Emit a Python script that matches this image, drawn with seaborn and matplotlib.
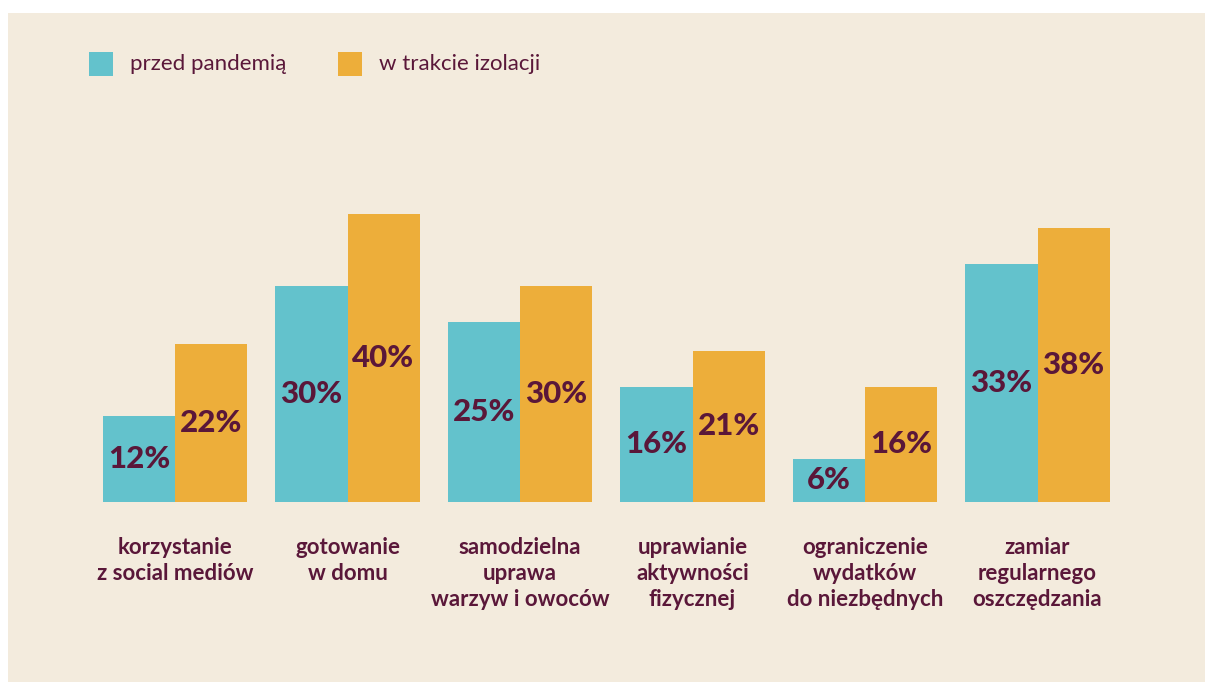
import matplotlib
matplotlib.use("Agg")
import matplotlib.pyplot as plt
from matplotlib.patches import Rectangle
import seaborn as sns
import pandas as pd

categories = [
    "korzystanie\nz social mediów",
    "gotowanie\nw domu",
    "samodzielna\nuprawa\nwarzyw i owoców",
    "uprawianie\naktywności\nfizycznej",
    "ograniczenie\nwydatków\ndo niezbędnych",
    "zamiar\nregularnego\noszczędzania",
]
series_names = ["przed pandemią", "w trakcie izolacji"]
before = [12, 30, 25, 16, 6, 33]
during = [22, 40, 30, 21, 16, 38]

BG = "#f3ebdd"
TEAL = "#63c2cc"
ORANGE = "#edae3a"
TEXT = "#5a1739"

sns.set_theme(style="white")
plt.rcParams["font.family"] = ["Lato", "DejaVu Sans"]

df = pd.DataFrame({
    "cat": categories * 2,
    "series": [series_names[0]] * len(categories) + [series_names[1]] * len(categories),
    "value": before + during,
})

W, H = 1205, 682
fig = plt.figure(figsize=(W / 100, H / 100), dpi=100)
fig.patch.set_facecolor("white")
fig.patches.append(Rectangle((8 / W, 0), 1 - 8 / W, (H - 13) / H,
                             transform=fig.transFigure, facecolor=BG,
                             edgecolor="none", zorder=-10))

left = 88.75
width = 1035
base = 502
ax = fig.add_axes([left / W, (H - base) / H, width / W, 360 / H])
ax.set_facecolor("none")
ax.set_zorder(5)

sns.barplot(data=df, x="cat", y="value", hue="series",
            palette=[TEAL, ORANGE], width=0.835, ax=ax,
            legend=False, saturation=1, linewidth=0)

ax.set_xlim(-0.5, len(categories) - 0.5)
ax.set_ylim(0, 50)
for s in ax.spines.values():
    s.set_visible(False)
ax.set_yticks([])
ax.set_xlabel("")
ax.set_ylabel("")
ax.tick_params(axis="x", length=0, pad=25)
for lab in ax.get_xticklabels():
    lab.set_fontsize(16)
    lab.set_fontweight("bold")
    lab.set_color(TEXT)
    lab.set_linespacing(1.3)
    lab.set_verticalalignment("top")

for cont in ax.containers:
    for bar in cont:
        h = bar.get_height()
        ax.text(bar.get_x() + bar.get_width() / 2, h / 2, f"{h:.0f}%",
                ha="center", va="center", fontsize=22.5, fontweight="black",
                color=TEXT)

# legend
for i, (name, col) in enumerate(zip(series_names, [TEAL, ORANGE])):
    x0 = [89, 338][i]
    fig.patches.append(Rectangle((x0 / W, (H - 76) / H), 24 / W, 24 / H,
                                 transform=fig.transFigure, facecolor=col,
                                 edgecolor="none", zorder=1))
    fig.text((x0 + 41) / W, (H - 64) / H, name, ha="left", va="center",
             fontsize=16, fontweight="normal", color=TEXT)

fig.savefig("out.png", dpi=100, facecolor=fig.get_facecolor())
